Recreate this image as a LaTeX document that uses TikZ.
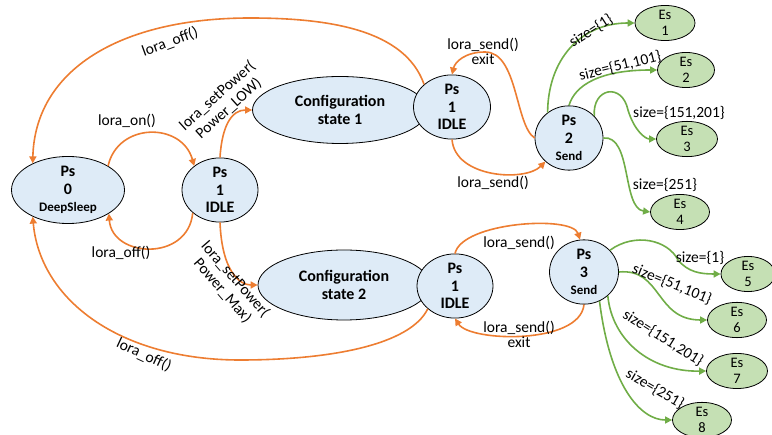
\documentclass[tikz,border=0pt]{standalone}
\usepackage{fontspec}
\setmainfont{Carlito}
\usepackage{tikz}
\usetikzlibrary{arrows.meta, shapes.geometric}

\definecolor{psblue}{HTML}{DEEBF7}
\definecolor{esgreen}{HTML}{C5E0B4}
\definecolor{lineorange}{HTML}{ED7D31}
\definecolor{linegreen}{HTML}{70AD47}

\newcommand{\subfont}{\fontsize{13}{15}\selectfont}

\begin{document}
\begin{tikzpicture}[
            x=1pt, y=-1pt,
            every node/.style={font=\fontsize{15.5}{17}\selectfont},
            psstate/.style={ellipse, draw, thick, fill=psblue, inner sep=0pt,
                align=center, font=\fontsize{16}{17.5}\selectfont\bfseries},
            esstate/.style={ellipse, draw, thick, fill=esgreen, inner sep=0pt,
                align=center, font=\fontsize{14.5}{15.5}\selectfont},
            oarrow/.style={draw=lineorange, line width=1.6pt,
                -{Triangle[length=7pt, width=7pt]}, fill=none},
            garrow/.style={draw=linegreen, line width=1.6pt,
                -{Triangle[length=7pt, width=7pt]}, fill=none},
            lbl/.style={align=center, inner sep=1pt}
        ]
        \useasboundingbox (0,0) rectangle (772,435);

        % states
        \node[psstate, minimum width=113pt, minimum height=61pt] (ps0) at (68,190)
            {Ps\\0\\{\subfont DeepSleep}};
        \node[psstate, minimum width=76pt, minimum height=61pt] (idleA) at (220,190)
            {Ps\\1\\IDLE};
        \node[psstate, minimum width=175pt, minimum height=67pt] (cfg1) at (340,110)
            {Configuration\\state 1};
        \node[psstate, minimum width=77pt, minimum height=62pt] (idleB) at (452,107)
            {Ps\\1\\IDLE};
        \node[psstate, minimum width=68pt, minimum height=60pt] (ps2) at (569,138)
            {Ps\\2\\{\subfont Send}};
        \node[psstate, minimum width=172pt, minimum height=70pt] (cfg2) at (344,285)
            {Configuration\\state 2};
        \node[psstate, minimum width=76pt, minimum height=61pt] (idleC) at (455,286)
            {Ps\\1\\IDLE};
        \node[psstate, minimum width=69pt, minimum height=60pt] (ps3) at (584,272)
            {Ps\\3\\{\subfont Send}};

        \node[esstate, minimum width=60pt, minimum height=31pt] (es1) at (665,23) {Es\\1};
        \node[esstate, minimum width=57pt, minimum height=31pt] (es2) at (686,70) {Es\\2};
        \node[esstate, minimum width=61pt, minimum height=30pt] (es3) at (687,139) {Es\\3};
        \node[esstate, minimum width=59pt, minimum height=30pt] (es4) at (680,212) {Es\\4};
        \node[esstate, minimum width=54pt, minimum height=30pt] (es5) at (748,274) {Es\\5};
        \node[esstate, minimum width=59pt, minimum height=31pt] (es6) at (737,320) {Es\\6};
        \node[esstate, minimum width=61pt, minimum height=28pt] (es7) at (737,371) {Es\\7};
        \node[esstate, minimum width=59pt, minimum height=30pt] (es8) at (702,420) {Es\\8};

        % orange transitions
        \draw[oarrow] (ps0.31) .. controls (118,122) and (182,122) .. (idleA.137);
        \draw[oarrow] (idleA.220) .. controls (188,262) and (112,258) .. (ps0.-30);
        \draw[oarrow] (idleA.north) .. controls (222,125) and (232,110) .. (cfg1.west);
        \draw[oarrow] (idleA.south) .. controls (222,272) and (240,285) .. (cfg2.west);
        \draw[oarrow] (idleB.141) .. controls (405,30) and (330,18) .. (250,18)
            .. controls (120,18) and (35,70) .. (ps0.143);
        \draw[oarrow] (idleC.220) .. controls (410,345) and (330,360) .. (240,360)
            .. controls (120,360) and (40,300) .. (ps0.217);
        \draw[oarrow] (idleB.south) .. controls (455,178) and (525,182) .. (ps2.225);
        \draw[oarrow] (ps2.180) .. controls (515,125) and (518,52) .. (485,52)
            .. controls (465,52) and (455,62) .. (idleB.north);
        \draw[oarrow] (idleC.north) .. controls (462,222) and (572,215) .. (ps3.97);
        \draw[oarrow] (ps3.south) .. controls (580,345) and (470,342) .. (idleC.south);

        % green transitions
        \draw[garrow] (ps2.130) .. controls (548,60) and (580,23) .. (es1.west);
        \draw[garrow] (ps2.north) .. controls (575,85) and (600,70) .. (es2.west);
        \draw[garrow] (ps2.41) .. controls (592,88) and (622,82) .. (628,110)
            .. controls (634,130) and (645,139) .. (es3.west);
        \draw[garrow] (ps2.east) .. controls (632,135) and (622,208) .. (es4.west);
        \draw[garrow] (ps3.40) .. controls (635,232) and (668,240) .. (678,260)
            .. controls (688,272) and (700,274) .. (es5.west);
        \draw[garrow] (ps3.east) .. controls (662,268) and (655,320) .. (es6.west);
        \draw[garrow] (ps3.-45) .. controls (612,340) and (650,372) .. (es7.west);
        \draw[garrow] (ps3.-62) .. controls (610,385) and (640,420) .. (es8.west);

        % labels
        \node[lbl] (lon) at (127,121) {lora\_on()};
        \node[lbl] (loffA) at (121,253) {lora\_off()};
        \node[lbl, rotate=42] (lowpow) at (223,102) {lora\_setPower(\\Power\_LOW)};
        \node[lbl, rotate=-49] (maxpow) at (229,285) {lora\_setPower(\\Power\_Max)};
        \node[lbl, rotate=20] (loffB) at (170,42) {lora\_off()};
        \node[lbl, rotate=-25] (loffC) at (144,355) {lora\_off()};
        \node[lbl] (sendA) at (483,51) {lora\_send()\\[-2pt]exit};
        \node[lbl] (sendB) at (493,183) {lora\_send()};
        \node[lbl] (sendC) at (519,243) {lora\_send()};
        \node[lbl] (sendD) at (519,334) {lora\_send()\\[-2pt]exit};

        \node[lbl, rotate=33] (szA) at (591,31) {size=\{1\}};
        \node[lbl, rotate=14] (szB) at (620,66) {size=\{51,101\}};
        \node[lbl] (szC) at (679,113) {size=\{151,201\}};
        \node[lbl] (szD) at (665,185) {size=\{251\}};
        \node[lbl] (szE) at (700,258) {size=\{1\}};
        \node[lbl, rotate=-22] (szF) at (672,284) {size=\{51,101\}};
        \node[lbl, rotate=-32] (szG) at (663,338) {size=\{151,201\}};
        \node[lbl, rotate=-30] (szH) at (655,389) {size=\{251\}};

    \end{tikzpicture}
\end{document}
